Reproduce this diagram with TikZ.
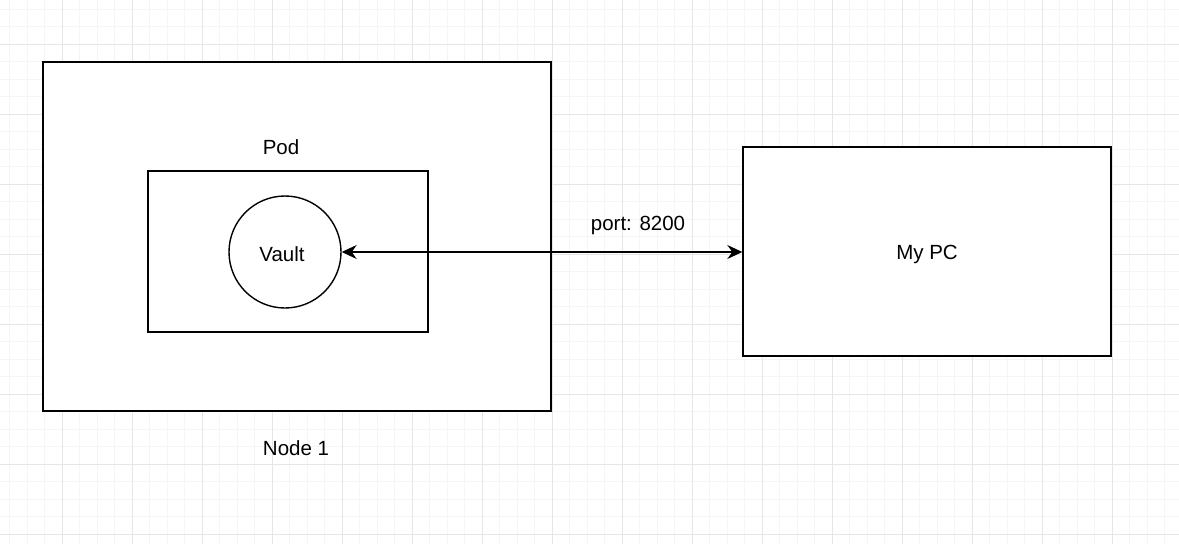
\documentclass[tikz,border=0pt]{standalone}
\usepackage{fontspec}
\setmainfont{Liberation Sans}
\usetikzlibrary{arrows.meta}
\definecolor{gridminor}{HTML}{F5F5F5}
\definecolor{gridmajor}{HTML}{E6E6E6}
\begin{document}
\begin{tikzpicture}[x=1pt,y=-1pt,
  minorline/.style={draw=gridminor,line width=1pt},
  majorline/.style={draw=gridmajor,line width=1pt},
  boxshape/.style={draw=black,fill=white,line width=1.4pt,inner sep=0pt},
  lbl/.style={inner sep=0pt,font=\fontsize{20.5}{24}\selectfont},
  conn/.style={line width=1.4pt,{Stealth[length=15pt,width=14pt,inset=5pt]}-{Stealth[length=15pt,width=14pt,inset=5pt]}}]
\useasboundingbox (0,0) rectangle (1179,544);
\fill[white] (0,0) rectangle (1179,544);
\foreach \i in {0,...,66} \draw[minorline] ({9.8+17.5*\i},0) -- ({9.8+17.5*\i},544);
\foreach \i in {0,...,30} \draw[minorline] (0,{9.3+17.5*\i}) -- (1179,{9.3+17.5*\i});
\foreach \i in {0,...,15} \draw[majorline] ({62.3+70*\i},0) -- ({62.3+70*\i},544);
\foreach \i in {0,...,7} \draw[majorline] (0,{44.3+70*\i}) -- (1179,{44.3+70*\i});
\node[boxshape,minimum width=508,minimum height=349] (node1) at (297,236.5) {};
\node[boxshape,minimum width=280,minimum height=161] (pod) at (288,251.5) {};
\node[boxshape,circle,minimum size=112] (vault) at (285,252) {};
\node[lbl] (vaultlbl) at (282,254.5) {Vault};
\node[boxshape,minimum width=368,minimum height=209] (mypc) at (927,251.5) {};
\node[lbl] (mypclbl) at (927,254) {My PC};
\node[lbl] (podlbl) at (281,147.5) {Pod};
\node[lbl] (node1lbl) at (296,448.5) {Node 1};
\node[lbl] (portlbl) at (638,225) {port: 8200};
\draw[conn] (vault.east) -- (vault.east -| mypc.west);
\end{tikzpicture}
\end{document}
